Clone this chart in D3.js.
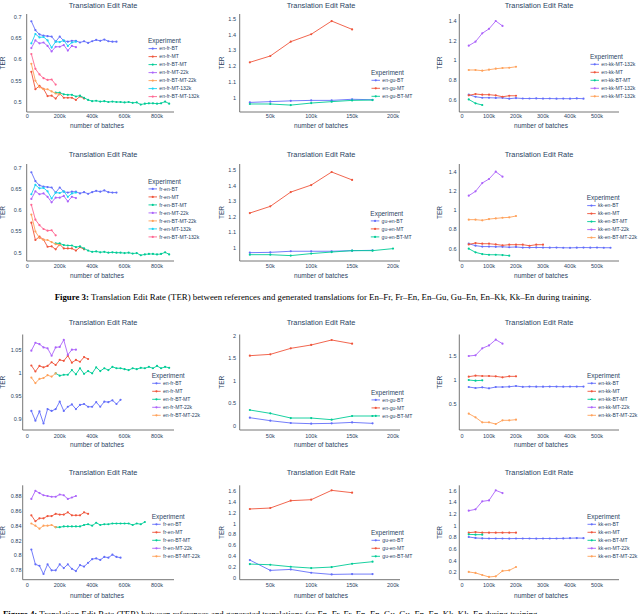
<!DOCTYPE html>
<html>
<head>
<meta charset="utf-8">
<script src="https://cdn.jsdelivr.net/npm/d3@7"></script>
<style>
body { margin: 0; background: #fff; }
svg { display: block; }
text { font-family: "Liberation Sans", Arial, sans-serif; fill: #2a3f5f; }
.cap { font-family: "Liberation Serif", "Times New Roman", serif; fill: #000; }
</style>
</head>
<body>
<svg width="640" height="614"></svg>
<script>
// checkpoints, in thousands of batches
var checkpoints = [25,50,75,100,125,150,175,200,225,250,275,300,325,350,375,400,425,450,475,500,525,550,575,600,625,650,675,700,725,750,775,800,825,850,875];

// series kinds (legend order) and plotly colours
var kinds = ["BT", "MT", "BT-MT", "MT-22k", "BT-MT-22k", "MT-132k", "BT-MT-132k"];
var kindColors = ["#636efa", "#EF553B", "#00cc96", "#ab63fa", "#FFA15A", "#19d3f3", "#FF6692"];

// ---- row 1 / 2, column 1 (en-fr, fr-en) ----
var frBT = [0.690,0.669,0.659,0.656,0.655,0.654,0.642,0.654,0.644,0.642,0.644,0.644,0.640,0.643,0.639,0.643,0.646,0.644,0.647,0.643,0.642,0.642];
var frMT = [0.571,0.530,0.538,0.531,0.514,0.515,0.508,0.520,0.510,0.510,0.510,0.505,0.513,0.508];
var frBTMT = [0.522,0.522,0.518,0.517,0.517,0.513,0.515,0.510,0.505,0.502,0.503,0.501,0.502,0.500,0.501,0.500,0.500,0.499,0.500,0.498,0.499,0.494,0.496,0.497,0.497,0.496,0.497,0.501,0.496];
var frMT22 = [0.627,0.645,0.638,0.640,0.632,0.619,0.630,0.630,0.634,0.621,0.632,0.629];
var frBTMT22 = [0.590,0.550,0.535,0.530,0.530,0.525,0.520,0.518];
var frMT132 = [0.638,0.660,0.652,0.653,0.645,0.628,0.642,0.641,0.645,0.632,0.640,0.642];
var frBTMT132 = [0.613,0.578,0.565,0.556,0.552,0.553,0.541];

// ---- row 1 / 2, column 2 (en-gu, gu-en) ----
var enguBT = [0.970,0.975,0.980,0.983,0.983,0.990,0.987];
var enguMT = [1.225,1.265,1.356,1.403,1.487,1.434];
var enguBTMT = [0.960,0.960,0.953,0.966,0.975,0.983,0.985];
var guenBT = [0.970,0.972,0.979,0.979,0.979,0.983,0.985];
var guenMT = [1.225,1.268,1.360,1.405,1.489,1.438];
var guenBTMT = [0.957,0.957,0.951,0.964,0.974,0.983,0.983,0.996];

// ---- row 1 / 2, column 3 (en-kk, kk-en) ----
var enkkBT = [0.651,0.630,0.620,0.620,0.618,0.619,0.610,0.617,0.612,0.612,0.613,0.611,0.612,0.610,0.611,0.610,0.613,0.610];
var enkkMT = [0.644,0.658,0.651,0.651,0.644,0.630,0.640,0.640];
var enkkBTMT = [0.603,0.563,0.546];
var enkkMT132 = [1.149,1.190,1.275,1.320,1.400,1.350];
var enkkBTMT132 = [0.902,0.902,0.895,0.905,0.915,0.922,0.925,0.935];
var kkenBT = [0.652,0.632,0.622,0.622,0.620,0.620,0.615,0.618,0.612,0.612,0.613,0.612,0.611,0.612,0.610,0.609,0.611,0.612,0.611,0.612,0.610,0.610];
var kkenMT = [0.645,0.659,0.652,0.652,0.645,0.635,0.642,0.642,0.642,0.631,0.642,0.642];
var kkenBTMT = [0.600,0.562,0.544,0.537,0.537,0.534,0.527];
var kkenMT22 = [1.153,1.198,1.285,1.327,1.403,1.351];
var kkenBTMT22 = [0.903,0.903,0.896,0.909,0.916,0.923,0.927,0.941];

// ---- row 3 ----
var g_frBT = [0.918,0.897,0.917,0.891,0.922,0.918,0.922,0.938,0.918,0.927,0.932,0.922,0.931,0.933,0.927,0.927,0.937,0.927,0.938,0.937,0.941,0.933,0.942];
var g_frMT = [1.016,1.003,1.015,1.012,1.015,1.023,1.017,1.028,1.026,1.037,1.022,1.028,1.024,1.034,1.030];
var g_frBTMT = [0.999,0.994,0.996,0.996,1.006,0.997,1.010,0.998,1.004,0.999,1.012,1.004,1.010,1.006,1.013,1.010,1.010,1.008,1.006,1.010,1.008,1.011,1.010,1.013,1.010,1.015,1.010,1.013,1.011];
var g_frMT22 = [1.048,1.065,1.062,1.055,1.053,1.037,1.055,1.056,1.071,1.039,1.050,1.050];
var g_frBTMT22 = [0.990,0.978,0.987,0.989,0.995,0.992,0.999];
var h_guBT = [0.178,0.112,0.060,0.045,0.052,0.074,0.052];
var h_guMT = [1.561,1.591,1.725,1.800,1.911,1.829];
var h_guBTMT = [0.350,0.275,0.171,0.171,0.134,0.216,0.216];
var i_kkBT = [0.854,0.833,0.847,0.826,0.854,0.854,0.860,0.875,0.857,0.862,0.860,0.860,0.864,0.862,0.860,0.862,0.862,0.862];
var i_kkMT = [1.070,1.090,1.083,1.083,1.076,1.056,1.076,1.076];
var i_kkBTMT = [1.000,0.986,0.993];
var i_kkMT22 = [1.500,1.514,1.660,1.720,1.840,1.757];
var i_kkBTMT22 = [0.299,0.222,0.118,0.118,0.083,0.160,0.160,0.174];

// ---- row 4 ----
var j_frBT = [0.808,0.788,0.786,0.775,0.788,0.780,0.780,0.788,0.783,0.788,0.782,0.779,0.787,0.785,0.790,0.795,0.796,0.794,0.798,0.797,0.801,0.798,0.797];
var j_frMT = [0.854,0.846,0.850,0.850,0.853,0.853,0.856,0.855,0.855,0.858,0.854,0.854,0.854,0.858,0.856];
var j_frBTMT = [0.838,0.838,0.839,0.839,0.839,0.839,0.839,0.841,0.842,0.840,0.844,0.841,0.842,0.842,0.843,0.843,0.843,0.843,0.843,0.841,0.843,0.842,0.845];
var j_frMT22 = [0.876,0.887,0.884,0.881,0.880,0.879,0.879,0.882,0.881,0.876,0.878,0.880];
var j_frBTMT22 = [0.843,0.840,0.836,0.840,0.840,0.841,0.838];
var k_guBT = [0.330,0.140,0.158,0.097,0.066,0.072,0.072];
var k_guMT = [1.269,1.287,1.422,1.440,1.612,1.569];
var k_guBTMT = [0.256,0.244,0.207,0.183,0.201,0.262,0.300];
var l_kkBT = [0.806,0.789,0.783,0.780,0.780,0.780,0.778,0.780,0.780,0.780,0.778,0.780,0.780,0.780,0.782,0.785,0.788,0.785];
var l_kkMT = [0.880,0.890,0.880,0.880,0.880,0.880,0.880,0.880];
var l_kkBTMT = [0.851,0.846,0.846];
var l_kkMT22 = [1.257,1.280,1.417,1.434,1.606,1.560];
var l_kkBTMT22 = [0.206,0.189,0.154,0.120,0.131,0.223,0.234,0.291];

// tick values
var xTicks = [[0,200,400,600,800], [50,100,150,200], [0,100,200,300,400,500]];

// layout of the grid
var cols = [
  {xa:[0,27.3], xb:[800,157], right:174, tickEnd:21.5, yTitleX:3, center:103, xTitleX:97},
  {xa:[50,270.3], xb:[200,393], left:239.7, right:400, tickEnd:236, yTitleX:221.3, center:321, xTitleX:321},
  {xa:[0,462], xb:[500,597], left:459.3, right:619, tickEnd:456.5, yTitleX:439.3, center:539, xTitleX:541}
];
var rows = [
  {title:5, top:14, bottom:112, tickY:116, xTitleY:126, left0:26.7},
  {title:154, top:164, bottom:261, tickY:266, xTitleY:276, left0:26.7},
  {title:322.3, top:334.5, bottom:430, tickY:435.7, xTitleY:445, left0:22.7},
  {title:472.7, top:485.3, bottom:579.7, tickY:585.3, xTitleY:595.3, left0:22.7}
];

function S(kind, from, values) { return {kind: kind, from: from, values: values}; }

var panels = [
  {row:0, col:0, pair:"en-fr", ya:[0.7,17], yb:[0.5,102], yTicks:[0.5,0.55,0.6,0.65,0.7], legend:[148,41],
   series:[S(0,25,frBT),S(1,25,frMT),S(2,175,frBTMT),S(3,25,frMT22),S(4,25,frBTMT22),S(5,25,frMT132),S(6,25,frBTMT132)]},
  {row:0, col:1, pair:"en-gu", ya:[1.5,19], yb:[1,97.7], yTicks:[1,1.1,1.2,1.3,1.4,1.5], legend:[371,72.7],
   series:[S(0,25,enguBT),S(1,25,enguMT),S(2,25,enguBTMT)]},
  {row:0, col:2, pair:"en-kk", ya:[1.4,21], yb:[0.6,99.7], yTicks:[0.6,0.8,1,1.2,1.4], legend:[590,56.7],
   names:["en-kk-MT-132k","en-kk-MT","en-kk-BT-MT","en-kk-MT-132k","en-kk-MT-132k"],
   series:[S(0,25,enkkBT),S(1,25,enkkMT),S(2,25,enkkBTMT),S(3,25,enkkMT132),S(4,25,enkkBTMT132)]},
  {row:1, col:0, pair:"fr-en", ya:[0.7,168], yb:[0.5,252.7], yTicks:[0.5,0.55,0.6,0.65,0.7], legend:[148,181.3],
   series:[S(0,25,frBT),S(1,25,frMT),S(2,175,frBTMT),S(3,25,frMT22),S(4,25,frBTMT22),S(5,25,frMT132),S(6,25,frBTMT132)]},
  {row:1, col:1, pair:"gu-en", ya:[1.5,170.3], yb:[1,248], yTicks:[1,1.1,1.2,1.3,1.4,1.5], legend:[370.3,213.3],
   series:[S(0,25,guenBT),S(1,25,guenMT),S(2,25,guenBTMT)]},
  {row:1, col:2, pair:"kk-en", ya:[1.4,172], yb:[0.6,248.7], yTicks:[0.6,0.8,1,1.2,1.4], legend:[586.7,198],
   series:[S(0,25,kkenBT),S(1,25,kkenMT),S(2,25,kkenBTMT),S(3,25,kkenMT22),S(4,25,kkenBTMT22)]},
  {row:2, col:0, pair:"en-fr", ya:[1.05,349.7], yb:[0.9,419.3], yTicks:[0.9,0.95,1,1.05], legend:[151.7,375.7],
   series:[S(0,25,g_frBT),S(1,25,g_frMT),S(2,175,g_frBTMT),S(3,25,g_frMT22),S(4,25,g_frBTMT22)]},
  {row:2, col:1, pair:"en-gu", ya:[2,336], yb:[0,425.7], yTicks:[0,0.5,1,1.5,2], legend:[371,392.3],
   series:[S(0,25,h_guBT),S(1,25,h_guMT),S(2,25,h_guBTMT)]},
  {row:2, col:2, pair:"en-kk", ya:[1.5,356], yb:[0.5,404], yTicks:[0.5,1,1.5], legend:[587,375.7],
   series:[S(0,25,i_kkBT),S(1,25,i_kkMT),S(2,25,i_kkBTMT),S(3,25,i_kkMT22),S(4,25,i_kkBTMT22)]},
  {row:3, col:0, pair:"fr-en", ya:[0.88,496], yb:[0.78,570.3], yTicks:[0.78,0.8,0.82,0.84,0.86,0.88], legend:[151.7,516.7],
   series:[S(0,25,j_frBT),S(1,25,j_frMT),S(2,175,j_frBTMT),S(3,25,j_frMT22),S(4,25,j_frBTMT22)]},
  {row:3, col:1, pair:"gu-en", ya:[1.6,491], yb:[0,578], yTicks:[0,0.2,0.4,0.6,0.8,1,1.2,1.4,1.6], legend:[371,532.7],
   series:[S(0,25,k_guBT),S(1,25,k_guMT),S(2,25,k_guBTMT)]},
  {row:3, col:2, pair:"kk-en", ya:[1.6,490.7], yb:[0.2,572.3], yTicks:[0.2,0.4,0.6,0.8,1,1.2,1.4,1.6], legend:[587,516.7],
   series:[S(0,25,l_kkBT),S(1,25,l_kkMT),S(2,25,l_kkBTMT),S(3,25,l_kkMT22),S(4,25,l_kkBTMT22)]}
];

var svg = d3.select("svg");
svg.append("rect").attr("width", 640).attr("height", 614).attr("fill", "#fff");

var fmtY = d3.format("~g");

panels.forEach(function(p) {
  var c = cols[p.col], r = rows[p.row];
  var left = p.col == 0 ? r.left0 : c.left;
  var x = d3.scaleLinear().domain([c.xa[0], c.xb[0]]).range([c.xa[1], c.xb[1]]);
  var y = d3.scaleLinear().domain([p.ya[0], p.yb[0]]).range([p.ya[1], p.yb[1]]);
  var g = svg.append("g");

  // title
  g.append("text").attr("x", c.center).attr("y", r.title).attr("dy", "0.35em")
    .attr("text-anchor", "middle").style("font-size", "7.4px").text("Translation Edit Rate");

  // axis lines
  g.append("path")
    .attr("d", "M" + left + "," + r.top + "V" + r.bottom + "H" + c.right)
    .attr("fill", "none").attr("stroke", "#666").attr("stroke-width", 0.9);

  // y ticks
  g.selectAll(".yt").data(p.yTicks).enter().append("text")
    .attr("x", c.tickEnd).attr("y", function(d) { return y(d); }).attr("dy", "0.35em")
    .attr("text-anchor", "end").style("font-size", "5.5px").text(function(d) { return fmtY(d); });

  // x ticks
  g.selectAll(".xt").data(xTicks[p.col]).enter().append("text")
    .attr("x", function(d) { return x(d); }).attr("y", r.tickY).attr("dy", "0.35em")
    .attr("text-anchor", "middle").style("font-size", "5.5px")
    .text(function(d) { return d == 0 ? "0" : d + "k"; });

  // axis titles
  g.append("text").attr("x", c.xTitleX).attr("y", r.xTitleY).attr("dy", "0.35em")
    .attr("text-anchor", "middle").style("font-size", "6.5px").text("number of batches");
  g.append("text").attr("transform", "translate(" + c.yTitleX + "," + ((r.top + r.bottom) / 2) + ") rotate(-90)")
    .attr("dy", "0.35em").attr("text-anchor", "middle").style("font-size", "6.5px").text("TER");

  // lines
  var line = d3.line().x(function(d) { return x(d[0]); }).y(function(d) { return y(d[1]); });
  p.series.forEach(function(s) {
    var start = checkpoints.indexOf(s.from);
    var pts = s.values.map(function(v, i) { return [checkpoints[start + i], v]; });
    var col = kindColors[s.kind];
    g.append("path").datum(pts).attr("d", line)
      .attr("fill", "none").attr("stroke", col).attr("stroke-width", 0.9);
    g.selectAll(null).data(pts).enter().append("circle")
      .attr("cx", function(d) { return x(d[0]); }).attr("cy", function(d) { return y(d[1]); })
      .attr("r", 1.1).attr("fill", col);
  });

  // legend
  var lx = p.legend[0], ly = p.legend[1];
  g.append("text").attr("x", lx).attr("y", ly).attr("dy", "0.35em")
    .style("font-size", "6.5px").text("Experiment");
  p.series.forEach(function(s, i) {
    var yy = ly + 7.6 + i * 8;
    var col = kindColors[s.kind];
    var name = p.names ? p.names[i] : p.pair + "-" + kinds[s.kind];
    g.append("line").attr("x1", lx + 0.5).attr("x2", lx + 9).attr("y1", yy).attr("y2", yy)
      .attr("stroke", col).attr("stroke-width", 0.9);
    g.append("circle").attr("cx", lx + 4.75).attr("cy", yy).attr("r", 1.1).attr("fill", col);
    g.append("text").attr("x", lx + 11.3).attr("y", yy).attr("dy", "0.35em")
      .style("font-size", "5.1px").text(name);
  });
});

// captions
var cap3 = svg.append("text").attr("class", "cap").attr("x", 323).attr("y", 297).attr("dy", "0.35em")
  .attr("text-anchor", "middle").style("font-size", "8.8px");
cap3.append("tspan").style("font-weight", "bold").text("Figure 3:");
cap3.append("tspan").text(" Translation Edit Rate (TER) between references and generated translations for En\u2013Fr, Fr\u2013En, En\u2013Gu, Gu\u2013En, En\u2013Kk, Kk\u2013En during training.");

var cap4 = svg.append("text").attr("class", "cap").attr("x", 3).attr("y", 617)
  .style("font-size", "8.8px");
cap4.append("tspan").style("font-weight", "bold").text("Figure 4:");
cap4.append("tspan").text(" Translation Edit Rate (TER) between references and generated translations for En\u2013Fr, Fr\u2013En, En\u2013Gu, Gu\u2013En, En\u2013Kk, Kk\u2013En during training.");
</script>
</body>
</html>
